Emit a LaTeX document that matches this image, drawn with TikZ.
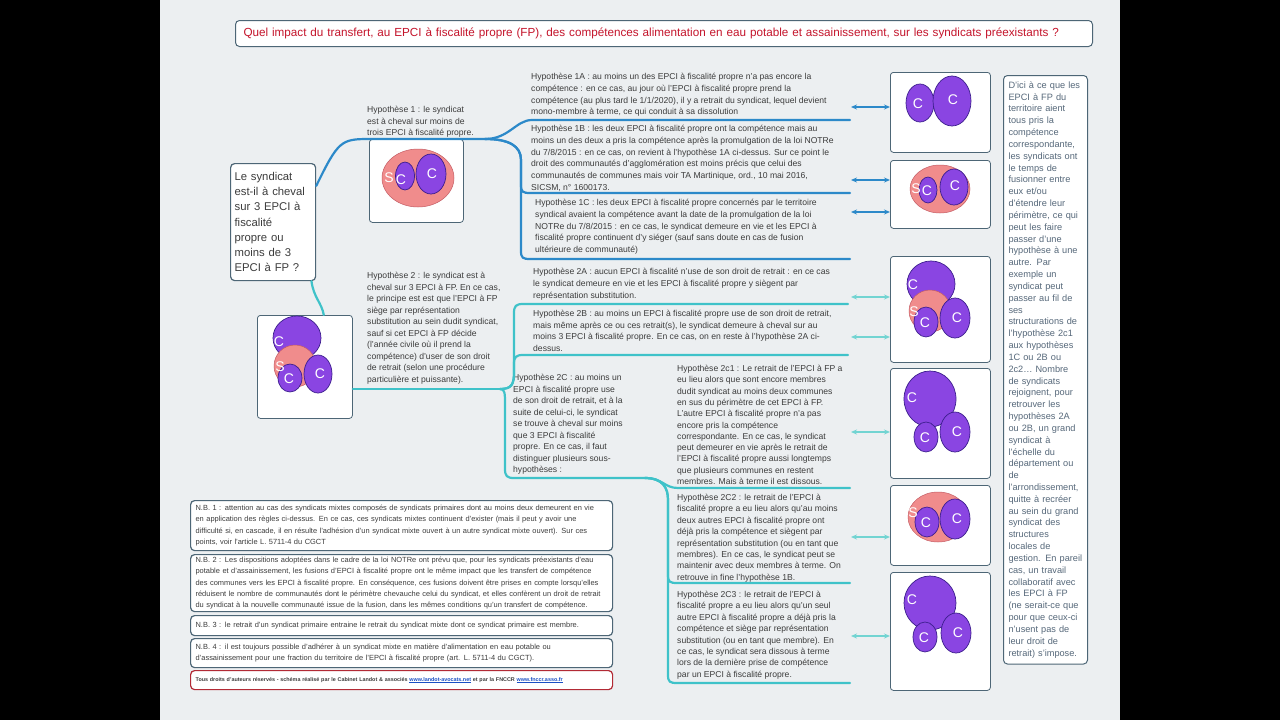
\documentclass[tikz,border=0pt]{standalone}
\usepackage{fontspec}
\setmainfont{Liberation Sans}
\usepackage{tikz}
\usetikzlibrary{arrows.meta,positioning,calc}
\definecolor{ink}{HTML}{3C3C3C}
\definecolor{slate}{HTML}{4D6676}
\definecolor{paper}{HTML}{ECEFF1}
\definecolor{titlered}{HTML}{C4142B}
\definecolor{branchA}{HTML}{2C89C9}
\definecolor{branchB}{HTML}{3FC2C9}
\definecolor{arrowB}{HTML}{72D4D2}
\definecolor{sfill}{HTML}{F08C8C}
\definecolor{sline}{HTML}{C45C64}
\definecolor{cfill}{HTML}{8A45E2}
\definecolor{cline}{HTML}{3B1E8C}
\definecolor{linkblue}{HTML}{1A4FC4}
\definecolor{sideink}{HTML}{56687A}
\definecolor{rightsred}{HTML}{B22A35}
\tikzset{
  hyp/.style={anchor=north west,align=left,inner sep=0pt,text=ink,font=\fontsize{8.6}{11.5}\selectfont},
  hypone/.style={hyp,font=\fontsize{8.6}{11.8}\selectfont},
  card/.style={draw=slate,fill=white,rounded corners=3pt,line width=0.8pt,anchor=north west,inner sep=0pt},
  titlebox/.style={draw=slate,fill=white,rounded corners=4pt,line width=1pt,anchor=north west,minimum height=26pt,text width=841pt,inner xsep=8pt,align=left,text=titlered,font=\fontsize{11.7}{13}\selectfont},
  rootbox/.style={draw=slate,fill=white,rounded corners=4pt,line width=1.2pt,anchor=north west,minimum height=117pt,text width=77pt,inner xsep=4pt,align=left,text=ink,font=\fontsize{11.3}{15.2}\selectfont},
  sidebox/.style={draw=slate,fill=white,rounded corners=4pt,line width=1pt,anchor=north west,text width=74pt,inner xsep=5pt,inner ysep=6pt,align=left,text=sideink,font=\fontsize{9.2}{11.83}\selectfont},
  note/.style={draw=slate,fill=white,rounded corners=4pt,line width=1.2pt,anchor=north west,text width=412pt,inner xsep=5pt,inner ysep=0pt,align=left,text=ink,font=\fontsize{7.45}{11.2}\selectfont},
  rights/.style={note,draw=rightsred,font=\fontsize{5.4}{6}\selectfont\bfseries},
  syn/.style={fill=sfill,draw=sline,line width=0.5pt},
  com/.style={fill=cfill,draw=cline,line width=0.7pt},
  letter/.style={text=white,font=\fontsize{14}{14}\selectfont,inner sep=0pt},
  branchone/.style={draw=branchA,line width=2.2pt,line cap=round},
  branchtwo/.style={draw=branchB,line width=2.2pt,line cap=round},
  linkone/.style={draw=branchA,line width=1.3pt,{Stealth[length=6pt,width=5pt]}-{Stealth[length=6pt,width=5pt]}},
  linktwo/.style={draw=arrowB,line width=1.3pt,{Stealth[length=6pt,width=5pt]}-{Stealth[length=6pt,width=5pt]}}
}
\begin{document}
\begin{tikzpicture}[x=1pt,y=-1pt]
  \useasboundingbox (0,0) rectangle (1280,720);
  \fill[black] (0,0) rectangle (1280,720);
  \fill[paper] (160,0) rectangle (1120,720);

  \node[titlebox] (title) at (235,20) {Quel impact du transfert, au EPCI à fiscalité propre (FP), des compétences alimentation en eau potable et assainissement, sur les syndicats préexistants ?};

  \node[rootbox] (root) at (230,163) {Le syndicat\\est-il à cheval\\sur 3 EPCI à\\fiscalité\\propre ou\\moins de 3\\EPCI à FP ?};

  \node[hyp] (hyp1) at (367,106) {Hypothèse 1 : le syndicat\\est à cheval sur moins de\\trois EPCI à fiscalité propre.};
  \node[card,minimum width=94pt,minimum height=83pt] (pic1) at (369,139) {};
  \node[hyp] (hyp2) at (367,272) {Hypothèse 2 : le syndicat est à\\cheval sur 3 EPCI à FP. En ce cas,\\le principe est est que l'EPCI à FP\\siège par représentation\\substitution au sein dudit syndicat,\\sauf si cet EPCI à FP décide\\(l'année civile où il prend la\\compétence) d'user de son droit\\de retrait (selon une procédure\\particulière et puissante).};
  \node[card,minimum width=95pt,minimum height=103pt] (pic2) at (257,315) {};

  \node[hypone] (hyp1a) at (531,73) {Hypothèse 1A : au moins un des EPCI à fiscalité propre n'a pas encore la\\compétence : en ce cas, au jour où l'EPCI à fiscalité propre prend la\\compétence (au plus tard le 1/1/2020), il y a retrait du syndicat, lequel devient\\mono-membre à terme, ce qui conduit à sa dissolution};
  \node[hypone] (hyp1b) at (531,125) {Hypothèse 1B : les deux EPCI à fiscalité propre ont la compétence mais au\\moins un des deux a pris la compétence après la promulgation de la loi NOTRe\\du 7/8/2015 : en ce cas, on revient à l'hypothèse 1A ci-dessus. Sur ce point le\\droit des communautés d'agglomération est moins précis que celui des\\communautés de communes mais voir TA Martinique, ord., 10 mai 2016,\\SICSM, n° 1600173.};
  \node[hypone] (hyp1c) at (535,199) {Hypothèse 1C : les deux EPCI à fiscalité propre concernés par le territoire\\syndical avaient la compétence avant la date de la promulgation de la loi\\NOTRe du 7/8/2015 : en ce cas, le syndicat demeure en vie et les EPCI à\\fiscalité propre continuent d'y siéger (sauf sans doute en cas de fusion\\ultérieure de communauté)};
  \node[hypone] (hyp2a) at (533,268) {Hypothèse 2A : aucun EPCI à fiscalité n'use de son droit de retrait : en ce cas\\le syndicat demeure en vie et les EPCI à fiscalité propre y siègent par\\représentation substitution.};
  \node[hyp] (hyp2b) at (533,310) {Hypothèse 2B : au moins un EPCI à fiscalité propre use de son droit de retrait,\\mais même après ce ou ces retrait(s), le syndicat demeure à cheval sur au\\moins 3 EPCI à fiscalité propre. En ce cas, on en reste à l'hypothèse 2A ci-\\dessus.};
  \node[hyp] (hyp2c) at (513,374) {Hypothèse 2C : au moins un\\EPCI à fiscalité propre use\\de son droit de retrait, et à la\\suite de celui-ci, le syndicat\\se trouve à cheval sur moins\\que 3 EPCI à fiscalité\\propre. En ce cas, il faut\\distinguer plusieurs sous-\\hypothèses :};
  \node[hyp,font=\fontsize{8.6}{11.3}\selectfont] (hyp2c1) at (677,365) {Hypothèse 2c1 : Le retrait de l'EPCI à FP a\\eu lieu alors que sont encore membres\\dudit syndicat au moins deux communes\\en sus du périmètre de cet EPCI à FP.\\L'autre EPCI à fiscalité propre n'a pas\\encore pris la compétence\\correspondante. En ce cas, le syndicat\\peut demeurer en vie après le retrait de\\l'EPCI à fiscalité propre aussi longtemps\\que plusieurs communes en restent\\membres. Mais à terme il est dissous.};
  \node[hyp,font=\fontsize{8.6}{11.4}\selectfont] (hyp2c2) at (677,494) {Hypothèse 2C2 : le retrait de l'EPCI à\\fiscalité propre a eu lieu alors qu'au moins\\deux autres EPCI à fiscalité propre ont\\déjà pris la compétence et siègent par\\représentation substitution (ou en tant que\\membres). En ce cas, le syndicat peut se\\maintenir avec deux membres à terme. On\\retrouve in fine l'hypothèse 1B.};
  \node[hyp,font=\fontsize{8.6}{11.4}\selectfont] (hyp2c3) at (677,591) {Hypothèse 2C3 : le retrait de l'EPCI à\\fiscalité propre a eu lieu alors qu'un seul\\autre EPCI à fiscalité propre a déjà pris la\\compétence et siège par représentation\\substitution (ou en tant que membre). En\\ce cas, le syndicat sera dissous à terme\\lors de la dernière prise de compétence\\par un EPCI à fiscalité propre.};

  \node[card,minimum width=100pt,minimum height=80pt] (r1) at (890,72) {};
  \node[card,minimum width=100pt,minimum height=68pt] (r2) at (890,160) {};
  \node[card,minimum width=100pt,minimum height=106pt] (r3) at (890,256) {};
  \node[card,minimum width=100pt,minimum height=110pt] (r4) at (890,368) {};
  \node[card,minimum width=100pt,minimum height=80pt] (r5) at (890,485) {};
  \node[card,minimum width=100pt,minimum height=118pt] (r6) at (890,572) {};

  \node[sidebox] (side) at (1003,75) {D'ici à ce que les\\EPCI à FP du\\territoire aient\\tous pris la\\compétence\\correspondante,\\les syndicats ont\\le temps de\\fusionner entre\\eux et/ou\\d'étendre leur\\périmètre, ce qui\\peut les faire\\passer d'une\\hypothèse à une\\autre. Par\\exemple un\\syndicat peut\\passer au fil de\\ses\\structurations de\\l'hypothèse 2c1\\aux hypothèses\\1C ou 2B ou\\2c2… Nombre\\de syndicats\\rejoignent, pour\\retrouver les\\hypothèses 2A\\ou 2B, un grand\\syndicat à\\l'échelle du\\département ou\\de\\l'arrondissement,\\quitte à recréer\\au sein du grand\\syndicat des\\structures\\locales de\\gestion. En pareil\\cas, un travail\\collaboratif avec\\les EPCI à FP\\(ne serait-ce que\\pour que ceux-ci\\n'usent pas de\\leur droit de\\retrait) s'impose.};

  \node[note,minimum height=50pt] (nb1) at (190,500) {N.B. 1 : attention au cas des syndicats mixtes composés de syndicats primaires dont au moins deux demeurent en vie\\en application des règles ci-dessus. En ce cas, ces syndicats mixtes continuent d'exister (mais il peut y avoir une\\difficulté si, en cascade, il en résulte l'adhésion d'un syndicat mixte ouvert à un autre syndicat mixte ouvert). Sur ces\\points, voir l'article L. 5711-4 du CGCT};
  \node[note,minimum height=57pt] (nb2) at (190,554) {N.B. 2 : Les dispositions adoptées dans le cadre de la loi NOTRe ont prévu que, pour les syndicats préexistants d'eau\\potable et d'assainissement, les fusions d'EPCI à fiscalité propre ont le même impact que les transfert de compétence\\des communes vers les EPCI à fiscalité propre. En conséquence, ces fusions doivent être prises en compte lorsqu'elles\\réduisent le nombre de communautés dont le périmètre chevauche celui du syndicat, et elles confèrent un droit de retrait\\du syndicat à la nouvelle communauté issue de la fusion, dans les mêmes conditions qu'un transfert de compétence.};
  \node[note,minimum height=20pt] (nb3) at (190,615) {N.B. 3 : le retrait d'un syndicat primaire entraine le retrait du syndicat mixte dont ce syndicat primaire est membre.};
  \node[note,minimum height=29pt] (nb4) at (190,638) {N.B. 4 : il est toujours possible d'adhérer à un syndicat mixte en matière d'alimentation en eau potable ou\\d'assainissement pour une fraction du territoire de l'EPCI à fiscalité propre (art. L. 5711-4 du CGCT).};
  \node[rights,minimum height=19pt] (copy) at (190,670) {Tous droits d'auteurs réservés - schéma réalisé par le Cabinet Landot \& associés \textcolor{linkblue}{\underline{www.landot-avocats.net}} et par la FNCCR \textcolor{linkblue}{\underline{www.fnccr.asso.fr}}};

  \draw[syn] (418,178) ellipse [x radius=36pt,y radius=29pt];
  \draw[com] (405,176) ellipse [x radius=9.5pt,y radius=14pt];
  \draw[com] (431,174) ellipse [x radius=15pt,y radius=20pt];
  \node[letter] (p1s) at (389,178) {S};
  \node[letter] (p1c) at (401,180) {C};
  \node[letter] (p1d) at (432,174) {C};

  \draw[com] (297,338) ellipse [x radius=24pt,y radius=22pt];
  \draw[syn] (295,366) ellipse [x radius=21pt,y radius=21pt];
  \draw[com] (290,378) ellipse [x radius=12pt,y radius=14pt];
  \draw[com] (318,374) ellipse [x radius=14pt,y radius=19pt];
  \node[letter] (p2c) at (279,342) {C};
  \node[letter] (p2s) at (280,367) {S};
  \node[letter] (p2d) at (289,379) {C};
  \node[letter] (p2e) at (320,374) {C};

  \draw[com] (920,103) ellipse [x radius=14pt,y radius=19pt];
  \draw[com] (952,101) ellipse [x radius=19pt,y radius=25pt];
  \node[letter] (r1c) at (918,104) {C};
  \node[letter] (r1d) at (953,100) {C};

  \draw[syn] (940,189) ellipse [x radius=30pt,y radius=24pt];
  \draw[com] (928,190) ellipse [x radius=9pt,y radius=13pt];
  \draw[com] (954,187) ellipse [x radius=14pt,y radius=18pt];
  \node[letter] (r2s) at (916,189) {S};
  \node[letter] (r2c) at (927,191) {C};
  \node[letter] (r2d) at (955,186) {C};

  \draw[com] (931,284) ellipse [x radius=24pt,y radius=23pt];
  \draw[syn] (930,311) ellipse [x radius=21pt,y radius=21pt];
  \draw[com] (926,322) ellipse [x radius=12pt,y radius=15pt];
  \draw[com] (955,318) ellipse [x radius=15pt,y radius=20pt];
  \node[letter] (r3c) at (913,285) {C};
  \node[letter] (r3s) at (914,312) {S};
  \node[letter] (r3d) at (925,323) {C};
  \node[letter] (r3e) at (957,318) {C};

  \draw[com] (930,399) ellipse [x radius=26pt,y radius=28pt];
  \draw[com] (926,437) ellipse [x radius=12pt,y radius=15pt];
  \draw[com] (955,432) ellipse [x radius=15pt,y radius=20pt];
  \node[letter] (r4c) at (912,398) {C};
  \node[letter] (r4d) at (925,438) {C};
  \node[letter] (r4e) at (957,432) {C};

  \draw[syn] (938,517) ellipse [x radius=30pt,y radius=25pt];
  \draw[com] (927,522) ellipse [x radius=12pt,y radius=15pt];
  \draw[com] (955,519) ellipse [x radius=15pt,y radius=20pt];
  \node[letter] (r5s) at (913,513) {S};
  \node[letter] (r5c) at (926,523) {C};
  \node[letter] (r5d) at (957,519) {C};

  \draw[com] (930,603) ellipse [x radius=26pt,y radius=27pt];
  \draw[com] (925,637) ellipse [x radius=12pt,y radius=15pt];
  \draw[com] (956,633) ellipse [x radius=15pt,y radius=20pt];
  \node[letter] (r6c) at (912,600) {C};
  \node[letter] (r6d) at (924,638) {C};
  \node[letter] (r6e) at (958,633) {C};

  \coordinate (j1) at (485,139);
  \coordinate (u1a) at (532,120); \coordinate (e1a) at (850,120);
  \coordinate (v1b) at (521,160); \coordinate (w1b) at (521,185);
  \coordinate (u1b) at (530,193); \coordinate (e1b) at (850,193);
  \coordinate (w1c) at (521,251);
  \coordinate (u1c) at (530,259); \coordinate (e1c) at (850,259);
  \coordinate (j2) at (500,389);
  \coordinate (v2a) at (514,372);
  \coordinate (w2a) at (514,313);
  \coordinate (u2a) at (523,304); \coordinate (e2a) at (848,304);
  \coordinate (w2b) at (514,364);
  \coordinate (u2b) at (523,355); \coordinate (e2b) at (848,355);
  \coordinate (v2c) at (505,405); \coordinate (w2c) at (505,469);
  \coordinate (u2c) at (514,478); \coordinate (j3) at (645,478);
  \coordinate (u2c1) at (678,488); \coordinate (e2c1) at (850,488);
  \coordinate (v2c2) at (668,500);
  \coordinate (w2c2) at (668,575);
  \coordinate (u2c2) at (677,583); \coordinate (e2c2) at (850,583);
  \coordinate (w2c3) at (668,675);
  \coordinate (u2c3) at (677,683); \coordinate (e2c3) at (850,683);

  \draw[branchone] (root.40) .. controls +(22,-45) and +(-28,0) .. (pic1.north west) -- (j1);
  \draw[branchone] (j1) .. controls +(24,0) and +(-16,0) .. (u1a) -- (e1a);
  \draw[branchone] (j1) .. controls +(24,0) and +(0,-14) .. (v1b) -- (w1b) .. controls +(0,7) and +(-7,0) .. (u1b) -- (e1b);
  \draw[branchone] (j1) .. controls +(24,0) and +(0,-14) .. (v1b) -- (w1c) .. controls +(0,7) and +(-7,0) .. (u1c) -- (e1c);

  \draw[branchtwo] (root.-57) .. controls +(2,16) and +(-2,-12) .. (pic2.70);
  \draw[branchtwo] (pic2.east |- j2) -- (j2);
  \draw[branchtwo] (j2) .. controls +(12,0) and +(0,12) .. (v2a) -- (w2a) .. controls +(0,-7) and +(-7,0) .. (u2a) -- (e2a);
  \draw[branchtwo] (j2) .. controls +(12,0) and +(0,12) .. (v2a) -- (w2b) .. controls +(0,-7) and +(-7,0) .. (u2b) -- (e2b);
  \draw[branchtwo] (j2) .. controls +(5,0) and +(0,-12) .. (v2c) -- (w2c) .. controls +(0,7) and +(-7,0) .. (u2c) -- (j3);
  \draw[branchtwo] (j3) .. controls +(18,0) and +(-14,0) .. (u2c1) -- (e2c1);
  \draw[branchtwo] (j3) .. controls +(18,0) and +(0,-12) .. (v2c2) -- (w2c2) .. controls +(0,7) and +(-7,0) .. (u2c2) -- (e2c2);
  \draw[branchtwo] (j3) .. controls +(18,0) and +(0,-12) .. (v2c2) -- (w2c3) .. controls +(0,7) and +(-7,0) .. (u2c3) -- (e2c3);

  \coordinate (a1a) at (851,107);
  \coordinate (a1b) at (851,180);
  \coordinate (a1c) at (851,212);
  \coordinate (a2a) at (851,297);
  \coordinate (a2b) at (851,337);
  \coordinate (a2c1) at (851,432);
  \coordinate (a2c2) at (851,537);
  \coordinate (a2c3) at (851,636);
  \draw[linkone] (a1a) -- (a1a -| r1.west);
  \draw[linkone] (a1b) -- (a1b -| r2.west);
  \draw[linkone] (a1c) -- (a1c -| r2.west);
  \draw[linktwo] (a2a) -- (a2a -| r3.west);
  \draw[linktwo] (a2b) -- (a2b -| r3.west);
  \draw[linktwo] (a2c1) -- (a2c1 -| r4.west);
  \draw[linktwo] (a2c2) -- (a2c2 -| r5.west);
  \draw[linktwo] (a2c3) -- (a2c3 -| r6.west);
\end{tikzpicture}
\end{document}
